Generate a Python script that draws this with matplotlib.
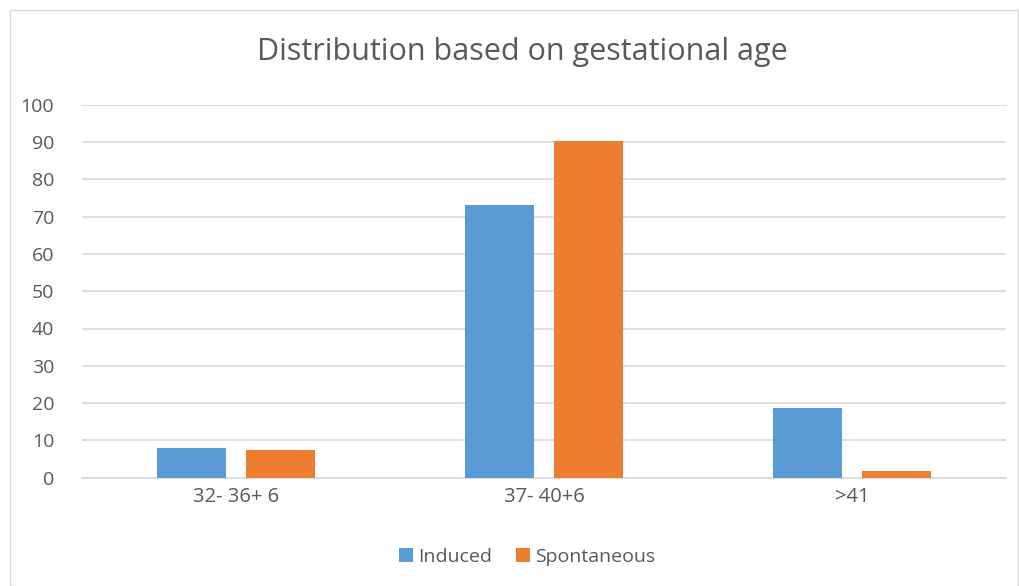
import matplotlib
matplotlib.use("Agg")
import matplotlib.pyplot as plt
import numpy as np
from matplotlib.patches import Rectangle

categories = ["32- 36+ 6", "37- 40+6", ">41"]
induced = [8.0, 73.0, 18.7]
spontaneous = [7.3, 90.4, 1.9]
yticks = [0, 10, 20, 30, 40, 50, 60, 70, 80, 90, 100]

plt.rcParams['font.family'] = ['Open Sans', 'DejaVu Sans']
txt = '#595959'
grid = '#d9d9d9'

fig = plt.figure(figsize=(10.19, 5.86), dpi=100)
fig.patches.append(Rectangle((10/1019, 0), 1 - 10/1019 - 1/1019, 1 - 10/586, transform=fig.transFigure,
                             fill=False, edgecolor=grid, linewidth=1))
ax = fig.add_axes([82/1019, 1 - 477.7/586, (1006 - 82)/1019, (477.7 - 104.7)/586])

x = np.arange(len(categories))
w = 0.224
off = 0.143
ax.bar(x - off, induced, w, color='#5B9BD5', label='Induced', zorder=3)
ax.bar(x + off, spontaneous, w, color='#ED7D31', label='Spontaneous', zorder=3)

ax.set_xlim(-0.5, 2.5)
ax.set_ylim(0, 100)
ax.set_yticks(yticks)
ax.set_xticks(x)
ax.set_xticklabels(categories)
ax.yaxis.grid(True, color=grid, linewidth=1.2, zorder=0)
ax.set_axisbelow(True)
for s in ['top', 'right', 'left']:
    ax.spines[s].set_visible(False)
ax.spines['bottom'].set_color(grid)
ax.spines['bottom'].set_linewidth(1.2)
ax.tick_params(axis='both', length=0, colors=txt, labelsize=14)
ax.tick_params(axis='x', labelsize=14.5)
ax.tick_params(axis='y', pad=20)
ax.tick_params(axis='x', pad=7)

fig.text(522/1019, 1 - 52/586, "Distribution based on gestational age", ha='center', va='center',
         fontsize=22, color=txt)

leg = ax.legend(loc='center', bbox_to_anchor=(527/1019, 1 - 557/586), bbox_transform=fig.transFigure,
                ncol=2, frameon=False, fontsize=14, handlelength=0.75, handleheight=0.75,
                handletextpad=0.25, columnspacing=1.2)
for t in leg.get_texts():
    t.set_color(txt)

fig.savefig("out.png", dpi=100)
